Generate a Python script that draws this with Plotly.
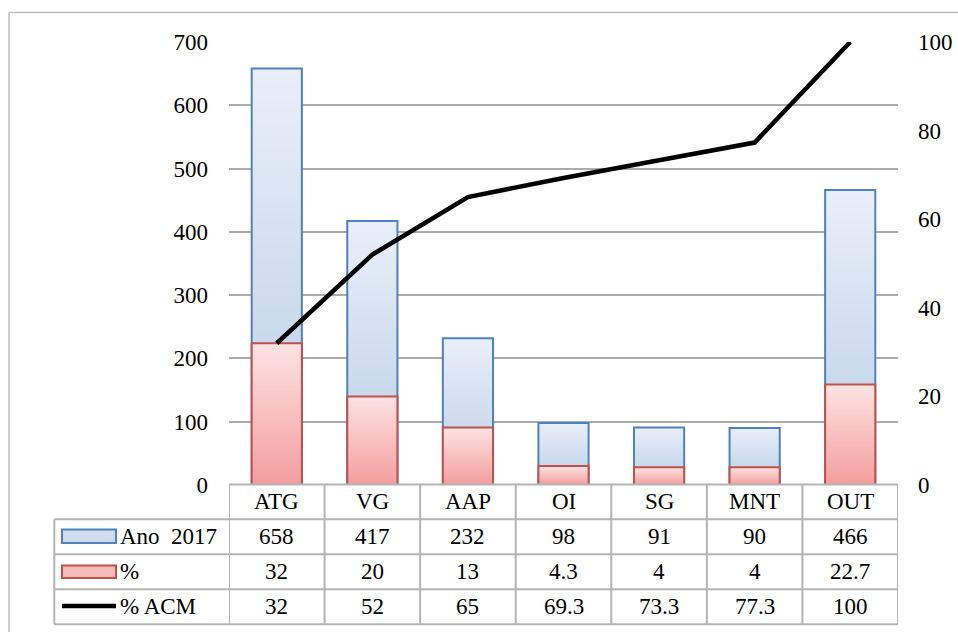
import plotly.graph_objects as go

# ---- data -------------------------------------------------------------
categories = ["ATG", "VG", "AAP", "OI", "SG", "MNT", "OUT"]
ano_2017 = [658, 417, 232, 98, 91, 90, 466]
pct = [32, 20, 13, 4.3, 4, 4, 22.7]
pct_acm = [32, 52, 65, 69.3, 73.3, 77.3, 100]
series_names = ["Ano\u00a0 2017", "%", "% ACM"]

# ---- geometry / style -------------------------------------------------
W, H = 958, 632
ML, MR, MT, MB = 229, 60, 42, 147
PW, PH = W - ML - MR, H - MT - MB
BAR_W = 0.525
FONT = "'Liberation Serif', 'Times New Roman', Times, 'DejaVu Serif', serif"
FS = 23
GRID = "#ababab"
TABLE = "#b4b4b4"
BLUE_LINE, BLUE_TOP, BLUE_BOT = "#4f81bd", "#e9eff8", "#b9cde6"
RED_LINE, RED_TOP, RED_BOT = "#c0504d", "#fde3e3", "#f39d9d"


def px_x(px):
    return (px - ML) / PW


def px_y(py):
    return (MT + PH - py) / PH


def bar_trace(i, value, yaxis, line_c, top_c, bot_c):
    x0, x1 = i - BAR_W / 2, i + BAR_W / 2
    return go.Scatter(
        x=[x0, x1, x1, x0, x0],
        y=[0, 0, value, value, 0],
        yaxis=yaxis,
        mode="lines",
        fill="toself",
        fillgradient=dict(type="vertical", start=0, stop=value,
                          colorscale=[[0, bot_c], [1, top_c]]),
        line=dict(color=line_c, width=2),
        showlegend=False,
        hoverinfo="skip",
    )


fig = go.Figure()

# counts on the left axis
for i, v in enumerate(ano_2017):
    fig.add_trace(bar_trace(i, v, "y", BLUE_LINE, BLUE_TOP, BLUE_BOT))
# percentages on the right axis, drawn in front
for i, v in enumerate(pct):
    fig.add_trace(bar_trace(i, v, "y2", RED_LINE, RED_TOP, RED_BOT))
# cumulative percentage
fig.add_trace(go.Scatter(
    x=list(range(len(categories))), y=pct_acm, yaxis="y2",
    mode="lines", line=dict(color="black", width=4.5),
    showlegend=False, hoverinfo="skip",
))

# ---- data table under the plot ---------------------------------------
row_edges = [484.5, 519.3, 554.3, 589.3, 624.3]
legend_left = 54.3
shapes = []
n = len(categories)
# vertical column separators
for k in range(n + 1):
    shapes.append(dict(type="line", xref="x", yref="paper",
                       x0=k - 0.5, x1=k - 0.5,
                       y0=px_y(row_edges[0]), y1=px_y(row_edges[-1]),
                       line=dict(color=TABLE, width=2)))
shapes.append(dict(type="line", xref="paper", yref="paper",
                   x0=px_x(legend_left), x1=px_x(legend_left),
                   y0=px_y(row_edges[1]), y1=px_y(row_edges[-1]),
                   line=dict(color=TABLE, width=2)))
# horizontal row separators
shapes.append(dict(type="line", xref="paper", yref="paper",
                   x0=0, x1=1, y0=px_y(row_edges[0]), y1=px_y(row_edges[0]),
                   line=dict(color=TABLE, width=2)))
for py in row_edges[1:]:
    shapes.append(dict(type="line", xref="paper", yref="paper",
                       x0=px_x(legend_left), x1=1, y0=px_y(py), y1=px_y(py),
                       line=dict(color=TABLE, width=2)))

# legend keys
key_x0, key_x1 = px_x(62), px_x(116)
shapes.append(dict(type="rect", xref="paper", yref="paper",
                   x0=key_x0, x1=key_x1, y0=px_y(543), y1=px_y(529.5),
                   fillcolor="#cfdcf0", line=dict(color=BLUE_LINE, width=2)))
shapes.append(dict(type="rect", xref="paper", yref="paper",
                   x0=key_x0, x1=key_x1, y0=px_y(578), y1=px_y(565.5),
                   fillcolor="#f7baba", line=dict(color=RED_LINE, width=2)))
shapes.append(dict(type="line", xref="paper", yref="paper",
                   x0=key_x0, x1=key_x1, y0=px_y(606), y1=px_y(606),
                   line=dict(color="black", width=4.5)))

# outer frame
shapes.append(dict(type="line", xref="paper", yref="paper",
                   x0=px_x(9), x1=px_x(W + 5), y0=px_y(12.5), y1=px_y(12.5),
                   line=dict(color="#bdbdbd", width=1.5)))
shapes.append(dict(type="line", xref="paper", yref="paper",
                   x0=px_x(9), x1=px_x(9), y0=px_y(12.5), y1=px_y(H + 5),
                   line=dict(color="#bdbdbd", width=1.5)))

annotations = []
tfont = dict(family=FONT, size=FS, color="black")


def centre(a, b):
    return px_y((row_edges[a] + row_edges[b]) / 2)


for i, c in enumerate(categories):
    annotations.append(dict(x=i, xref="x", y=centre(0, 1), yref="paper",
                            text=c, showarrow=False, font=tfont,
                            xanchor="center", yanchor="middle"))
for r, vals in enumerate([ano_2017, pct, pct_acm]):
    yy = centre(r + 1, r + 2)
    for i, v in enumerate(vals):
        annotations.append(dict(x=i, xref="x", y=yy, yref="paper",
                                text=f"{v:g}", showarrow=False, font=tfont,
                                xanchor="center", yanchor="middle"))
    annotations.append(dict(x=px_x(118), xref="paper", y=yy, yref="paper",
                            text=series_names[r], showarrow=False,
                            xanchor="left", yanchor="middle", font=tfont))

fig.update_layout(
    width=W, height=H,
    margin=dict(l=ML, r=MR, t=MT, b=MB, autoexpand=False),
    paper_bgcolor="white", plot_bgcolor="white",
    font=tfont,
    xaxis=dict(range=[-0.5, n - 0.5], showticklabels=False, showgrid=False,
               zeroline=False, showline=False, fixedrange=True,
               automargin=False),
    yaxis=dict(range=[0, 700], dtick=100, showgrid=True, gridcolor=GRID,
               gridwidth=2, zeroline=False, showline=False, ticks="",
               ticklabelstandoff=20, tickfont=tfont, automargin=False),
    yaxis2=dict(range=[0, 100], dtick=20, overlaying="y", side="right",
                showgrid=False, zeroline=False, showline=False, ticks="",
                ticklabelstandoff=19, tickfont=tfont, automargin=False),
    shapes=shapes,
    annotations=annotations,
    showlegend=False,
)

fig.write_html("out.html")
